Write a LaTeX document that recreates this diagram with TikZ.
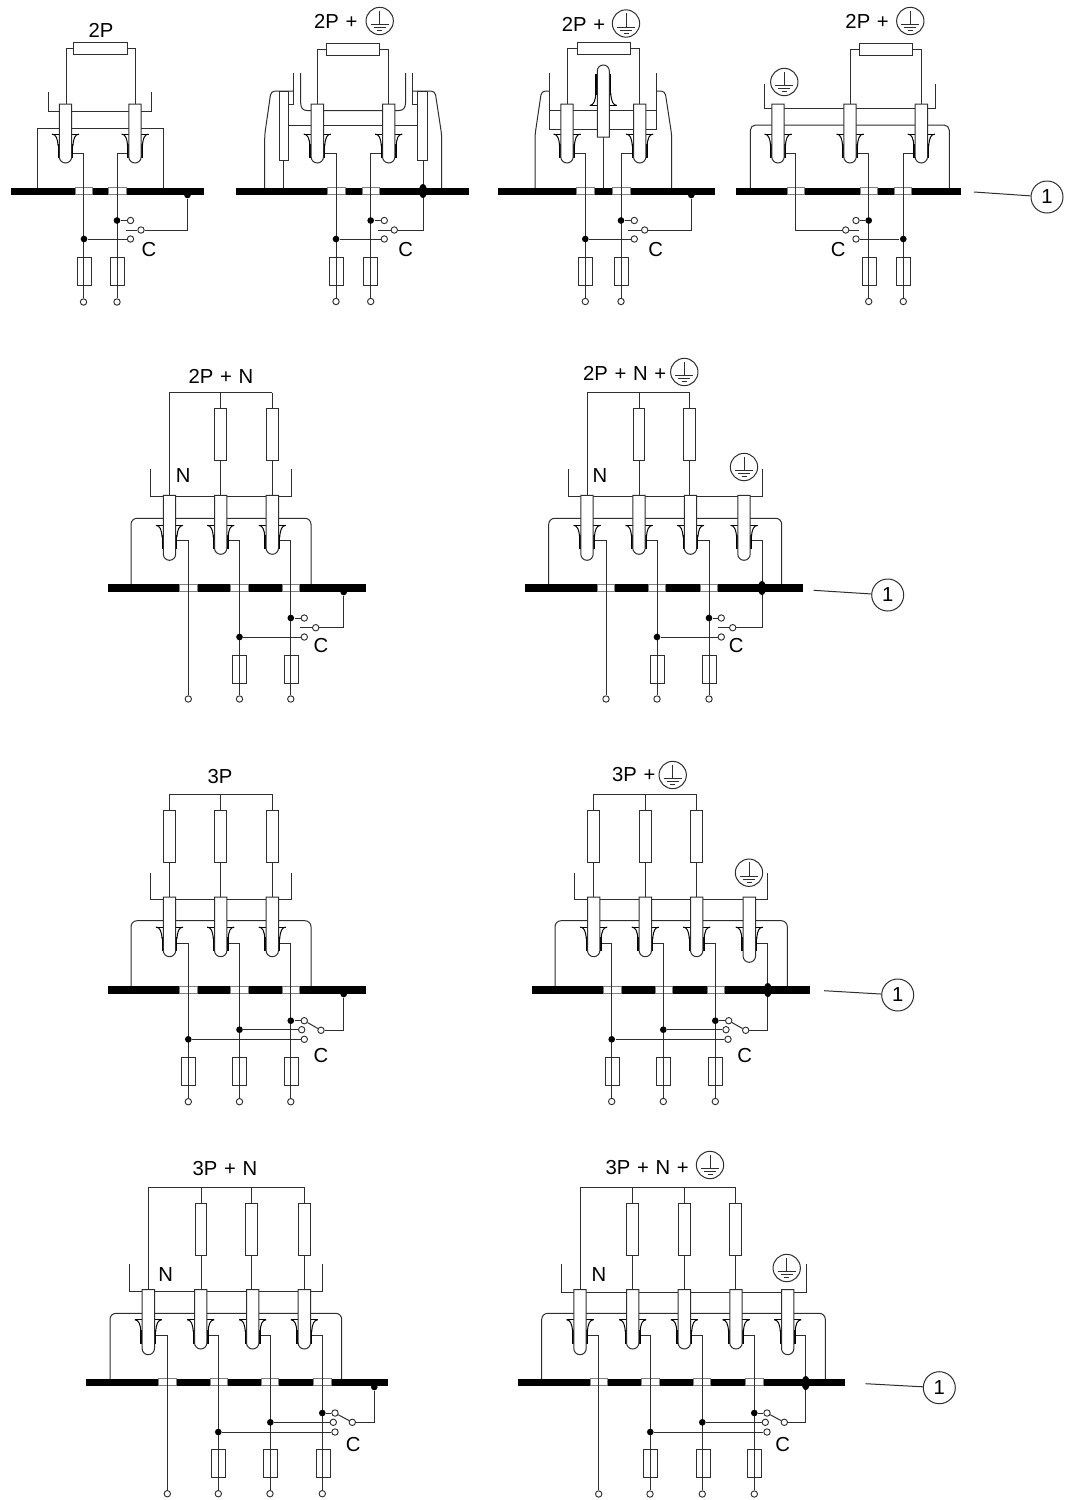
\documentclass[tikz,border=0pt]{standalone}
\usepackage{fontspec}
\setmainfont{Liberation Sans}
\usetikzlibrary{shapes.geometric}
\definecolor{ink}{gray}{0.18}
\newcommand\lblfont{\fontsize{15.2}{17}\selectfont\spaceskip=0.33em\relax}
\tikzset{
  every path/.style={line width=0.75pt,draw=ink},
  thin line/.style={line width=0.7pt},
  lbl/.style={font=\lblfont,inner sep=0pt,text=black,draw=none},
  ringn/.style={circle,draw=ink,fill=white,inner sep=0pt,minimum size=4.8pt,line width=0.7pt},
  dotn/.style={circle,draw=none,fill=black,inner sep=0pt,minimum size=5pt},
  bigdot/.style={ellipse,draw=none,fill=black,inner sep=0pt,minimum width=6pt,minimum height=10.5pt},
  resv/.style={rectangle,draw=ink,fill=white,inner sep=0pt,minimum width=8.8pt,minimum height=39pt},
  resh/.style={rectangle,draw=ink,fill=white,inner sep=0pt,minimum width=39.8pt,minimum height=9pt},
  gcirc/.style={circle,draw=ink,fill=white,inner sep=0pt,minimum size=20.5pt},
  numc/.style={circle,draw=ink,fill=white,inner sep=0pt,minimum size=24pt,font=\lblfont},
  pinb/.style={draw=ink,fill=white,line width=0.75pt},
  flr/.style={draw=black,line width=0.75pt},
  flrk/.style={draw=black,line width=1.1pt},
  gapb/.style={draw=gray,fill=white,line width=0.5pt},
  fuseb/.style={draw=ink,line width=0.7pt}
}
% pin: name, x, top, length
\newcommand\pinU[4]{%
  \begin{scope}[shift={(#2,#3)}]
    \coordinate (#1) at (0,0);
    \draw[flr] (-13.5,30) -- (13.5,30);
    \draw[flr] (-13.5,30) .. controls (-9.5,30.5) and (-8,34) .. (-7.4,42);
    \draw[flr] (13.5,30) .. controls (9.5,30.5) and (8,34) .. (7.4,42);
    \draw[flrk] (-7.2,40) -- (-7.2,54);
    \draw[flrk] (7.2,40) -- (7.2,54);
    \draw[pinb] (-6.2,0) -- (-6.2,{#4-6.2})
      .. controls (-6.2,{#4-2.8}) and (-3.4,#4) .. (0,#4)
      .. controls (3.4,#4) and (6.2,{#4-2.8}) .. (6.2,{#4-6.2}) -- (6.2,0) -- cycle;
  \end{scope}}
\newcommand\railbar[4]{%
  \fill[black,draw=none] (#1,{#3-3.7}) rectangle (#2,{#3+3.7});
  \foreach \ga/\gb in {#4} {\draw[gapb] (\ga,{#3-3.5}) rectangle (\gb,{#3+3.5});}}
% wire from a pin's side to an end ring: name, xstart, stub y, wire x, ring y
\newcommand\pole[5]{%
  \coordinate (#1-s) at (#2,#3);
  \node[ringn] (#1-e) at (#4,#5) {};
  \draw (#1-s) -| (#1-e);}
% dot on a wire with a contact ring: name, xdot, xring, y
\newcommand\tapc[4]{%
  \node[dotn] (#1-d) at (#2,#4) {};
  \node[ringn] (#1-c) at (#3,#4) {};
  \draw (#1-d) -- (#1-c);}
\newcommand\fuse[3]{\draw[fuseb] ({#1-7},#2) rectangle ({#1+7},#3);}
% load branch: name, x, bus y, resistor centre y, pin top
\newcommand\branch[5]{%
  \coordinate (#1-b) at (#2,#3);
  \node[resv] (#1-r) at (#2,#4) {};
  \coordinate (#1-t) at (#2,#5);
  \draw (#1-b) -- (#1-r) -- (#1-t);}
\newcommand\gnd[3]{%
  \node[gcirc] (#1) at (#2,#3) {};
  \begin{scope}[shift={(#2,#3)}]
    \draw[thin line] (0,-10.5) -- (0,3.5);
    \draw[thin line] (-9,3.5) -- (9,3.5);
    \draw[thin line] (-6,6.5) -- (6,6.5);
    \draw[thin line] (-2.5,9.5) -- (2.5,9.5);
  \end{scope}}
\newcommand\callout[5]{%
  \coordinate (#1-s) at (#2,#3);
  \node[numc] (#1) at (#4,#5) {1};
  \draw (#1-s) -- (#1);}
% rail dot + switch (2 way): name, x left lead, x ring, y, x rail, y rail
\newcommand\swlead[6]{%
  \node[ringn] (#1-sw) at (#3,#4) {};
  \coordinate (#1-sl) at (#2,#4);
  \node[dotn] (#1-rd) at (#5,#6) {};
  \draw (#1-sl) -- (#1-sw);
  \draw (#1-sw) -| (#1-rd);}
% three way switch: name, first contact, x ring, y, x rail, y rail
\newcommand\swthree[6]{%
  \node[ringn] (#1-sw) at (#3,#4) {};
  \node[dotn] (#1-rd) at (#5,#6) {};
  \draw (#2) -- (#1-sw);
  \draw (#1-sw) -| (#1-rd);}
\begin{document}
\begin{tikzpicture}[x=0.75pt,y=-0.75pt]
\useasboundingbox[draw=none] (0,0) rectangle (1066,1500);
\fill[white,draw=none] (0,0) rectangle (1066,1500);

%%%%%%%% 2P
\node[lbl] (a-title) at (101,30) {2P};
\node[resh] (a-R) at (100.5,48) {};
\coordinate (a-p1t) at (66,104); \coordinate (a-p2t) at (135,104);
\draw (a-R) -| (a-p1t); \draw (a-R) -| (a-p2t);
\draw (48,92) -- (48,111) -- (151,111) -- (151,92);
\draw (37,188) -- (37,128) -- (163.5,128) -- (163.5,188);
\railbar{10.5}{203.5}{191.2}{75/92,108.5/126}
\pole{a-1}{72}{153.5}{83.5}{302}
\pole{a-2}{129}{153.5}{117}{302}
\tapc{a-t1}{117}{130.5}{220.5}
\tapc{a-t2}{84}{130.5}{239}
\swlead{a}{126}{141}{230}{187.5}{195}
\fuse{84}{257}{285}\fuse{117.5}{257}{285}
\pinU{a-p1}{65.5}{104}{59}\pinU{a-p2}{135}{104}{59}
\node[lbl] (a-C) at (149,250) {C};

%%%%%%%% 2P + PE (side pins)
\node[lbl,anchor=east] (b-title) at (358,21) {2P +};
\gnd{b-g}{379.7}{21}
\node[resh] (b-R) at (353.3,49) {};
\coordinate (b-p1t) at (317.3,104); \coordinate (b-p2t) at (388.7,104);
\draw (b-R) -| (b-p1t); \draw (b-R) -| (b-p2t);
\draw (293.3,73) -- (293.3,104) -- (288.3,104) -- (288.3,125) -- (417.7,125) -- (417.7,104) -- (412.7,104) -- (412.7,73);
\draw (300.7,73) -- (300.7,103) .. controls (300.7,108) and (303,110.5) .. (307,110.5) -- (399,110.5) .. controls (403,110.5) and (405.5,108) .. (405.5,103) -- (405.5,73);
\draw[rounded corners=3pt] (264.7,188) -- (264.7,135) -- (271,91) -- (293.3,91);
\draw[rounded corners=3pt] (441.7,188) -- (441.7,135) -- (435,91) -- (412.7,91);
\draw (283.7,160) -- (283.7,188);
\railbar{236}{469.3}{191.2}{327.3/345,362/379.3}
\draw[pinb] (279,91) rectangle (288.3,160);
\draw[pinb] (417.7,91) rectangle (427.3,160);
\pole{b-1}{323.7}{153.5}{336}{301.5}
\pole{b-2}{382.5}{153.5}{370.7}{301.5}
\tapc{b-t1}{370.7}{384.3}{220.5}
\tapc{b-t2}{336}{384.3}{239}
\node[ringn] (b-sw) at (394.3,230) {};
\coordinate (b-sl) at (378.3,230);
\coordinate (b-pe) at (423,160);
\draw (b-sl) -- (b-sw);
\draw (b-pe) |- (b-sw);
\node[bigdot] (b-rd) at (423,191) {};
\fuse{336.3}{257}{285}\fuse{370.7}{257}{285}
\pinU{b-p1}{317.3}{104}{59}\pinU{b-p2}{388.7}{104}{59}
\node[lbl] (b-C) at (405.7,250) {C};

%%%%%%%% 2P + PE (centre pin)
\node[lbl,anchor=east] (c-title) at (605.7,24) {2P +};
\gnd{c-g}{626}{23.5}
\node[resh] (c-R) at (603.8,48) {};
\coordinate (c-p1t) at (567.3,104); \coordinate (c-p2t) at (639.7,104);
\draw (c-R) -| (c-p1t); \draw (c-R) -| (c-p2t);
\draw (549.3,73) -- (549.3,129) -- (656,129) -- (656,73);
\draw (549.3,110) -- (656,110);
\draw[rounded corners=3pt] (535,188) -- (535,135) -- (541.5,91) -- (549.3,91);
\draw[rounded corners=3pt] (671.7,188) -- (671.7,135) -- (665,91) -- (656,91);
\draw (603.3,137) -- (603.3,188);
\railbar{498}{714.7}{191.2}{576.7/594,612.7/630}
\pole{c-1}{573.3}{153.5}{585.3}{301.5}
\pole{c-2}{633.5}{153.5}{621}{301.5}
\tapc{c-t1}{621}{634.3}{220.5}
\tapc{c-t2}{585.3}{634.3}{239}
\swlead{c}{628.3}{644.7}{230}{691.3}{195}
\fuse{585.7}{257}{285}\fuse{621}{257}{285}
\pinU{c-p1}{567}{104}{59}\pinU{c-p2}{639.7}{104}{59}
\draw[flr] (589.8,105.5) -- (616.8,105.5);
\draw[flr] (589.8,105.5) .. controls (593.8,105) and (595.3,101) .. (595.9,93);
\draw[flr] (616.8,105.5) .. controls (612.8,105) and (611.3,101) .. (610.7,93);
\draw[flrk] (596.1,95) -- (596.1,74);
\draw[flrk] (610.5,95) -- (610.5,74);
\draw[pinb] (597.3,137) -- (597.3,71) .. controls (597.3,67.5) and (600,65) .. (603.3,65)
  .. controls (606.6,65) and (609.3,67.5) .. (609.3,71) -- (609.3,137) -- cycle;
\node[lbl] (c-C) at (655.7,250) {C};

%%%%%%%% 2P + PE (three pins)
\node[lbl,anchor=east] (d-title) at (889.3,21) {2P +};
\gnd{d-g}{910.3}{21}
\gnd{d-g2}{784.3}{82}
\node[resh] (d-R) at (886.2,49) {};
\coordinate (d-p2t) at (850,104); \coordinate (d-p3t) at (921.7,104);
\draw (d-R) -| (d-p2t); \draw (d-R) -| (d-p3t);
\draw (764.3,84) -- (764.3,108) -- (935,108) -- (935,84);
\draw[rounded corners=4pt] (750.3,188) -- (750.3,125) -- (949.3,125) -- (949.3,188);
\railbar{736}{961.3}{191.2}{787.3/804.7,860/877,894/911.3}
\coordinate (d-1s) at (784.5,153.5);
\node[ringn] (d-sw) at (845.7,230) {};
\coordinate (d-sr) at (859,230);
\draw (d-1s) -| (795.7,230) -- (d-sw);
\draw (d-sw) -- (d-sr);
\pole{d-2}{856.5}{153.5}{868.7}{301.5}
\pole{d-3}{915}{153.5}{903.3}{301.5}
\tapc{d-t1}{868.7}{856}{220.5}
\tapc{d-t2}{903.3}{856}{239}
\fuse{869}{257}{285}\fuse{903.5}{257}{285}
\pinU{d-p1}{778}{104}{59}\pinU{d-p2}{850}{104}{59}\pinU{d-p3}{921.3}{104}{59}
\node[lbl] (d-C) at (838.3,250) {C};
\callout{d-n}{974}{192}{1047}{197}

%%%%%%%% 2P + N
\node[lbl] (e-title) at (221,376.7) {2P + N};
\coordinate (e-b1) at (169.3,392.7); \coordinate (e-t1) at (169.3,495.3);
\draw (e-t1) -- (e-b1) -- (272.3,392.7);
\branch{e-2}{220.7}{392.7}{434}{495.3}
\branch{e-3}{272.3}{392.7}{434.5}{495.3}
\draw (150.3,469.3) -- (150.3,496.7) -- (291.3,496.7) -- (291.3,469.3);
\draw[rounded corners=4.5pt] (131,585) -- (131,518.3) -- (311,518.3) -- (311,585);
\railbar{107.7}{366}{588}{179.7/197,230.7/248,282/299}
\pole{e-p1}{175.7}{540.7}{188.3}{699}
\pole{e-p2}{227}{540.7}{239.5}{699}
\pole{e-p3}{278.5}{540.7}{290.8}{699}
\tapc{e-t3}{290.8}{304.3}{618}
\tapc{e-t2}{239.5}{304.3}{637}
\swlead{e}{300}{315.7}{627.7}{343.7}{592}
\fuse{239.8}{655}{683.3}\fuse{291}{655}{683.3}
\pinU{e-p1n}{169.5}{495.3}{65}\pinU{e-p2n}{220.7}{495.3}{59}\pinU{e-p3n}{272.3}{495.3}{59}
\node[lbl] (e-N) at (183.3,476) {N};
\node[lbl] (e-C) at (321,645.7) {C};

%%%%%%%% 2P + N + PE
\node[lbl,anchor=east] (f-title) at (666.7,373.3) {2P + N +};
\gnd{f-g}{684.3}{372}
\gnd{f-g2}{744}{467}
\coordinate (f-b1) at (587,392.7); \coordinate (f-t1) at (587,495.3);
\draw (f-t1) -- (f-b1) -- (690.3,392.7);
\branch{f-2}{639}{392.7}{434.7}{495.3}
\branch{f-3}{689.7}{392.7}{434.7}{495.3}
\draw (568.7,469) -- (568.7,496.7) -- (762.7,496.7) -- (762.7,469);
\draw[rounded corners=4.5pt] (548.7,585) -- (548.7,518.3) -- (781.7,518.3) -- (781.7,585);
\railbar{525.3}{802.7}{588}{597/614.3,648.3/665.7,700.3/717.3}
\pole{f-p1}{593.2}{540.7}{606}{699}
\pole{f-p2}{645.2}{540.7}{657}{699}
\pole{f-p3}{696.7}{540.7}{709}{699}
\tapc{f-t3}{709}{721.3}{618}
\tapc{f-t2}{657}{721.3}{637}
\node[ringn] (f-sw) at (732.7,627.7) {};
\coordinate (f-sl) at (718,627.7);
\coordinate (f-pe) at (750,540.7);
\draw (f-sl) -- (f-sw);
\draw (f-pe) -- (762,540.7) |- (f-sw);
\node[bigdot] (f-rd) at (762,588) {};
\fuse{657}{655}{683.3}\fuse{709.3}{655}{683.3}
\pinU{f-p1n}{587}{495.3}{65}\pinU{f-p2n}{639}{495.3}{59}\pinU{f-p3n}{690.5}{495.3}{59}\pinU{f-p4n}{744}{495.3}{65}
\node[lbl] (f-N) at (600,476) {N};
\node[lbl] (f-C) at (736.3,645.7) {C};
\callout{f-n}{813.7}{590.3}{887.7}{595}

%%%%%%%% 3P
\node[lbl] (g-title) at (220,776.7) {3P};
\draw (169.3,794.3) -- (272.3,794.3);
\branch{g-1}{169.5}{794.3}{836.5}{897}
\branch{g-2}{220.7}{794.3}{836.5}{897}
\branch{g-3}{272.3}{794.3}{836.5}{897}
\draw (150.3,872.7) -- (150.3,899.3) -- (291.3,899.3) -- (291.3,872.7);
\draw[rounded corners=4.5pt] (131,987) -- (131,920.7) -- (311,920.7) -- (311,987);
\railbar{107.7}{366}{990}{179.7/197,230.7/248,282/299}
\pole{g-p1}{175.7}{943}{188.3}{1101.7}
\pole{g-p2}{227}{943}{239.5}{1101.7}
\pole{g-p3}{278.5}{943}{290.8}{1101.7}
\tapc{g-t3}{290.8}{304.3}{1020.7}
\tapc{g-t2}{239.5}{301.7}{1029.7}
\tapc{g-t1}{188.3}{304.3}{1039.3}
\swthree{g}{g-t3-c}{321}{1030.3}{343.7}{994}
\fuse{188.5}{1057.3}{1085}\fuse{239.8}{1057.3}{1085}\fuse{291.2}{1057.3}{1085}
\pinU{g-p1n}{169.5}{897}{59.7}\pinU{g-p2n}{220.7}{897}{59.7}\pinU{g-p3n}{272.3}{897}{59.7}
\node[lbl] (g-C) at (321,1056) {C};

%%%%%%%% 3P + PE
\node[lbl,anchor=east] (h-title) at (656,775) {3P +};
\gnd{h-g}{672.7}{775}
\gnd{h-g2}{749}{872.7}
\draw (593.3,794.3) -- (696.7,794.3);
\branch{h-1}{593.5}{794.3}{836.5}{897}
\branch{h-2}{645.5}{794.3}{836.5}{897}
\branch{h-3}{696.5}{794.3}{836.5}{897}
\draw (574.3,872.7) -- (574.3,899.7) -- (767.3,899.7) -- (767.3,872.7);
\draw[rounded corners=4.5pt] (555,987) -- (555,920.7) -- (787.3,920.7) -- (787.3,987);
\railbar{531.7}{810}{990}{603.3/621,655/672,707/724}
\pole{h-p1}{600}{943}{611.7}{1101.5}
\pole{h-p2}{651.5}{943}{663.3}{1101.5}
\pole{h-p3}{703}{943}{715.3}{1101.5}
\tapc{h-t3}{715.3}{728.7}{1020.7}
\tapc{h-t2}{663.3}{726}{1029.7}
\tapc{h-t1}{611.7}{728}{1039.3}
\node[ringn] (h-sw) at (745.7,1030.3) {};
\coordinate (h-pe) at (755.5,943);
\draw (h-t3-c) -- (h-sw);
\draw (h-pe) -- (767.3,943) |- (h-sw);
\node[bigdot] (h-rd) at (767.8,990) {};
\fuse{612.3}{1057.3}{1085}\fuse{663.8}{1057.3}{1085}\fuse{715.3}{1057.3}{1085}
\pinU{h-p1n}{593.7}{897}{59.7}\pinU{h-p2n}{645.3}{897}{59.7}\pinU{h-p3n}{696.7}{897}{59.7}\pinU{h-p4n}{749.3}{897}{65.3}
\node[lbl] (h-C) at (744.7,1056) {C};
\callout{h-n}{824}{990.7}{897.7}{995}

%%%%%%%% 3P + N
\node[lbl] (i-title) at (225,1168.3) {3P + N};
\coordinate (i-b1) at (148.3,1187.3); \coordinate (i-t1) at (148.3,1289.7);
\draw (i-t1) -- (i-b1) -- (304,1187.3);
\branch{i-2}{201}{1187.3}{1229.2}{1289.7}
\branch{i-3}{251.8}{1187.3}{1229.2}{1289.7}
\branch{i-4}{304.2}{1187.3}{1229.2}{1289.7}
\draw (129.3,1264.3) -- (129.3,1291.3) -- (322.7,1291.3) -- (322.7,1264.3);
\draw[rounded corners=4.5pt] (110,1379) -- (110,1313.3) -- (341.7,1313.3) -- (341.7,1379);
\railbar{86}{387.7}{1382.3}{158.3/176,210/227,261/278,313.3/331}
\pole{i-p1}{154.5}{1335}{167.3}{1493.7}
\pole{i-p2}{207}{1335}{218.3}{1493.7}
\pole{i-p3}{259}{1335}{270}{1493.7}
\pole{i-p4}{310.5}{1335}{322.3}{1493.7}
\tapc{i-t4}{322.3}{335}{1413}
\tapc{i-t3}{270.3}{333.3}{1422.3}
\tapc{i-t2}{218.3}{335}{1432}
\swthree{i}{i-t4-c}{352.3}{1422.3}{374.3}{1387}
\fuse{218.5}{1449.7}{1477.7}\fuse{270.7}{1449.7}{1477.7}\fuse{323}{1449.7}{1477.7}
\pinU{i-p1n}{148.3}{1289.7}{65}\pinU{i-p2n}{200.7}{1289.7}{59.3}\pinU{i-p3n}{252.7}{1289.7}{59.3}\pinU{i-p4n}{304.3}{1289.7}{59.3}
\node[lbl] (i-N) at (165.7,1275) {N};
\node[lbl] (i-C) at (353.3,1445) {C};

%%%%%%%% 3P + N + PE
\node[lbl,anchor=east] (j-title) at (689.3,1167.3) {3P + N +};
\gnd{j-g}{710}{1165}
\gnd{j-g2}{786.7}{1268}
\coordinate (j-b1) at (580,1187.3); \coordinate (j-t1) at (580,1289.7);
\draw (j-t1) -- (j-b1) -- (736,1187.3);
\branch{j-2}{632.8}{1187.3}{1229.2}{1289.7}
\branch{j-3}{684.5}{1187.3}{1229.2}{1289.7}
\branch{j-4}{735.8}{1187.3}{1229.2}{1289.7}
\draw (561.7,1264.3) -- (561.7,1292) -- (806,1292) -- (806,1264.3);
\draw[rounded corners=4.5pt] (541.7,1379) -- (541.7,1313.3) -- (825.3,1313.3) -- (825.3,1379);
\railbar{518}{845.3}{1382.3}{590/607,641.3/659,693.3/710.7,745.7/763}
\pole{j-p1}{586.2}{1335}{598.7}{1494}
\pole{j-p2}{639}{1335}{650}{1494}
\pole{j-p3}{690.5}{1335}{702.3}{1494}
\pole{j-p4}{742.2}{1335}{754.3}{1494}
\tapc{j-t4}{754.3}{767}{1413}
\tapc{j-t3}{702.3}{765.3}{1422.3}
\tapc{j-t2}{650.3}{767}{1432}
\node[ringn] (j-sw) at (784.3,1422.3) {};
\coordinate (j-pe) at (794,1335);
\draw (j-t4-c) -- (j-sw);
\draw (j-pe) -- (805.7,1335) |- (j-sw);
\node[bigdot] (j-rd) at (805.7,1383) {};
\fuse{650.7}{1449.7}{1477.7}\fuse{703}{1449.7}{1477.7}\fuse{754.7}{1449.7}{1477.7}
\pinU{j-p1n}{580}{1289.7}{65}\pinU{j-p2n}{632.7}{1289.7}{59.3}\pinU{j-p3n}{684.3}{1289.7}{59.3}\pinU{j-p4n}{736}{1289.7}{59.3}\pinU{j-p5n}{787.7}{1289.7}{65}
\node[lbl] (j-N) at (599,1275) {N};
\node[lbl] (j-C) at (782.7,1445) {C};
\callout{j-n}{865.7}{1383.7}{939.3}{1387.7}
\end{tikzpicture}
\end{document}
